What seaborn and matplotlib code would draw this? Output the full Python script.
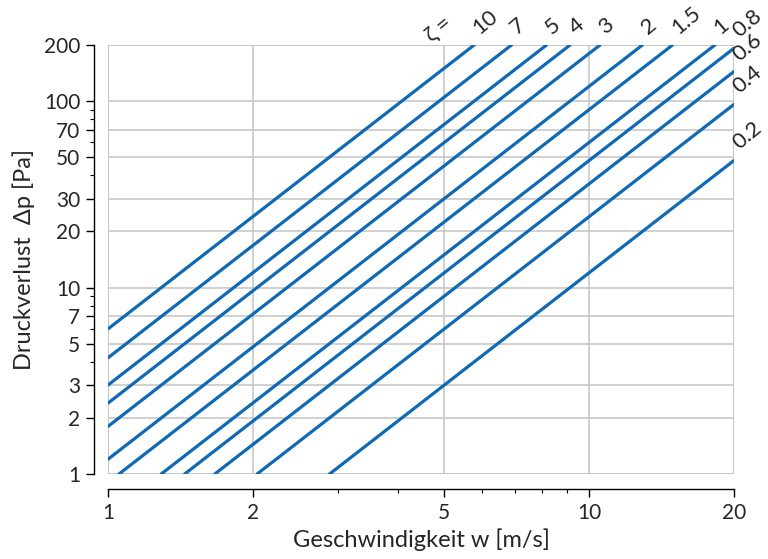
import numpy as np
import pandas as pd
import seaborn as sns
import matplotlib
matplotlib.use('Agg')
import matplotlib.pyplot as plt
from matplotlib.ticker import FixedLocator, NullFormatter

# pressure loss lines for several loss coefficients zeta
zeta = [10, 7, 5, 4, 3, 2, 1.5, 1, 0.8, 0.6, 0.4, 0.2]
zeta_labels = ['10', '7', '5', '4', '3', '2', '1.5', '1', '0.8', '0.6', '0.4', '0.2']
# visible start / end point of every line
w_start = [1, 1, 1, 1, 1, 1, 1.054, 1.29, 1.443, 1.667, 2.041, 2.887]
dp_start = [6, 4.2, 3.0, 2.4, 1.8, 1.2, 1, 1, 1, 1, 1, 1]
w_end = [5.77, 6.9, 8.16, 9.13, 10.54, 12.91, 14.91, 18.26, 20, 20, 20, 20]
dp_end = [200, 200, 200, 200, 200, 200, 200, 200, 192, 144, 96, 48]

x_ticks = [1, 2, 5, 10, 20]
y_ticks = [1, 2, 3, 5, 7, 10, 20, 30, 50, 70, 100, 200]

rows = []
for z, ws, ds, we, de in zip(zeta, w_start, dp_start, w_end, dp_end):
    rows.append({'zeta': z, 'w': ws, 'dp': ds})
    rows.append({'zeta': z, 'w': we, 'dp': de})
df = pd.DataFrame(rows)

sns.set_style('white')
plt.rcParams['font.family'] = ['Lato', 'DejaVu Sans']

fig = plt.figure(figsize=(7.68, 5.59), dpi=100)
ax = fig.add_axes([0.1406, 0.152, 0.815, 0.7675])

line_col = '#0f69b4'
sns.lineplot(data=df, x='w', y='dp', units='zeta', estimator=None,
             color=line_col, linewidth=2.3, ax=ax, legend=False)

ax.set_xscale('log')
ax.set_yscale('log')
ax.set_xlim(1, 20)
ax.set_ylim(1, 200)

ax.xaxis.set_major_locator(FixedLocator(x_ticks))
ax.xaxis.set_minor_locator(FixedLocator([3, 4, 6, 7, 8, 9]))
ax.set_xticklabels([str(t) for t in x_ticks])
ax.xaxis.set_minor_formatter(NullFormatter())
ax.yaxis.set_major_locator(FixedLocator(y_ticks))
ax.yaxis.set_minor_locator(FixedLocator([4, 6, 8, 9, 40, 60, 80, 90]))
ax.set_yticklabels([str(t) for t in y_ticks])
ax.yaxis.set_minor_formatter(NullFormatter())

ax.grid(True, which='major', color='#c4c4c4', linewidth=1.1)
ax.set_axisbelow(True)
for side in ['top', 'right']:
    ax.spines[side].set_visible(False)
ax.spines['left'].set_position(('outward', 10))
ax.spines['bottom'].set_position(('outward', 11))
ax.spines['left'].set_bounds(1, 200)
ax.spines['bottom'].set_bounds(1, 20)
for side in ['left', 'bottom']:
    ax.spines[side].set_color('black')
    ax.spines[side].set_linewidth(1.0)

# gray frame around plotting area
for x in [1, 20]:
    ax.axvline(x, color='#c4c4c4', linewidth=1.1, zorder=0)
for y in [1, 200]:
    ax.axhline(y, color='#c4c4c4', linewidth=1.1, zorder=0)

ax.tick_params(which='major', direction='out', length=6, width=1.0,
               color='black', labelsize=15, pad=4)
ax.tick_params(which='minor', direction='out', length=3, width=0.8, color='black')
ax.tick_params(axis='both', which='both', bottom=True, left=True)

ax.set_xlabel('Geschwindigkeit w [m/s]', fontsize=17, labelpad=4)
ax.set_ylabel('Druckverlust  \u0394p [Pa]', fontsize=17, labelpad=6)

for lab, we, de in zip(zeta_labels, w_end, dp_end):
    ax.annotate(lab, xy=(we, de), xytext=(8, 7), textcoords='offset pixels',
                rotation=40, rotation_mode='anchor', ha='left', va='bottom',
                fontsize=16, annotation_clip=False)
ax.annotate('\u03b6 =', xy=(w_end[0], dp_end[0]), xytext=(-40, 0),
            textcoords='offset pixels', rotation=40, rotation_mode='anchor',
            ha='left', va='bottom', fontsize=16, annotation_clip=False)

fig.savefig('out.png', dpi=100)
